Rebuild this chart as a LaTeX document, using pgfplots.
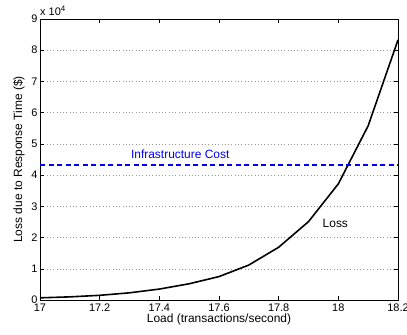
\documentclass[border=0pt]{standalone}
\usepackage{fontspec}
\setmainfont{Liberation Sans}
\usepackage{pgfplots}
\pgfplotsset{compat=1.18}
\begin{document}
\begin{tikzpicture}
\useasboundingbox (-40bp,-35bp) rectangle (367bp,300bp);
\begin{axis}[
  scale only axis,
  width=358bp, height=281bp,
  xmin=17, xmax=18.2, ymin=0, ymax=90000,
  xtick={17,17.2,...,18.2},
  xticklabels={17,17.2,17.4,17.6,17.8,18,18.2},
  ytick={0,10000,...,90000},
  yticklabels={0,1,2,3,4,5,6,7,8,9},
  scaled y ticks=false,
  tick align=inside,
  major tick length=4bp,
  ymajorgrids,
  grid style={dash pattern=on 0.7bp off 2.6bp, gray!80, line width=0.5pt},
  axis line style={line width=0.9pt},
  tick style={line width=0.5pt, black},
  /pgf/number format/assume math mode=true,
  ticklabel style={font=\fontsize{11}{13}\selectfont},
  xticklabel style={yshift=-0.5bp},
  yticklabel style={xshift=1bp},
  label style={font=\fontsize{12}{14}\selectfont},
  xlabel={Load (transactions/second)},
  ylabel={Loss due to Response Time (\$)},
  xlabel style={yshift=5bp},
  ylabel style={yshift=0bp},
  clip=false,
]
\addplot[black, line width=1.6pt] coordinates {
(17.0,700) (17.1,1000) (17.2,1500) (17.3,2300) (17.4,3500) (17.5,5200)
(17.6,7500) (17.7,11200) (17.8,16900) (17.9,25100) (18.0,37200)
(18.1,55800) (18.2,83300)};
\addplot[blue, line width=1.6pt, dash pattern=on 5bp off 3.5bp] coordinates {(17,43300) (18.2,43300)};
\node[blue, font=\fontsize{12}{14}\selectfont] at (axis cs:17.47,46800) {Infrastructure Cost};
\node[black, font=\fontsize{12}{14}\selectfont] at (axis cs:17.99,24400) {Loss};
\node[anchor=south west, inner sep=0pt, font=\fontsize{11}{13}\selectfont] at (rel axis cs:0,1) [yshift=3bp] {x 10$^{\mbox{\fontsize{8}{9}\selectfont 4}}$};
\end{axis}
\end{tikzpicture}
\end{document}
